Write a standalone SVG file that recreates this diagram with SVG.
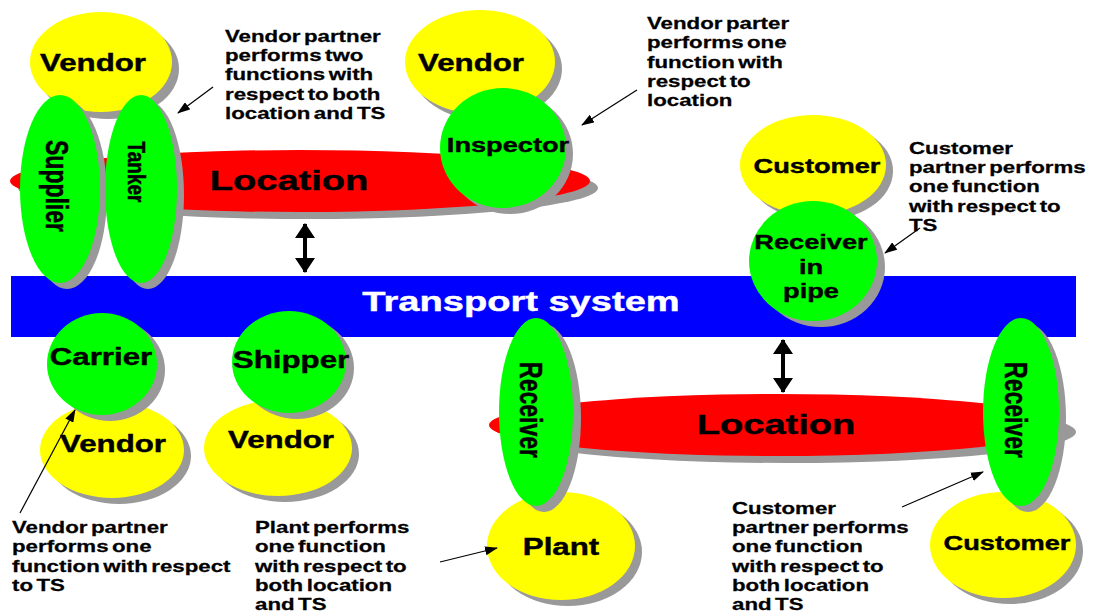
<svg xmlns="http://www.w3.org/2000/svg" width="1094" height="612" viewBox="0 0 1094 612">
  <defs>
    <style>
      text { font-family: "Liberation Sans", Arial, sans-serif; font-weight: bold; fill: #000; }
      .lbl { font-size: 23px; text-anchor: middle; stroke: #000; stroke-width: 0.4px; }
      .big { font-size: 28px; text-anchor: middle; stroke: #000; stroke-width: 0.4px; }
      .note { font-size: 16.5px; word-spacing: -2px; stroke: #000; stroke-width: 0.25px; }
      .ts { fill: #fff; stroke: #fff; }
      .sh { fill: #999; }
      .yel { fill: #ffff00; }
      .grn { fill: #00ff00; }
      .red { fill: #ff0000; }
      .thin { stroke: #000; stroke-width: 1.2; fill: none; marker-end: url(#tip); }
      .link { stroke: #000; stroke-width: 4; fill: none; marker-start: url(#head); marker-end: url(#head); }
    </style>
    <marker id="tip" markerUnits="userSpaceOnUse" markerWidth="13" markerHeight="9" refX="12" refY="4.5" orient="auto">
      <path d="M0,0 L13,4.5 L0,9 z" fill="#000"/>
    </marker>
    <marker id="head" markerUnits="userSpaceOnUse" markerWidth="20" markerHeight="20" refX="14" refY="10" orient="auto-start-reverse">
      <path d="M0,0 L15,10 L0,20 z" fill="#000"/>
    </marker>
  </defs>

  <rect width="1094" height="612" fill="#fff"/>

  <!-- transport system bar -->
  <g id="transport">
    <rect x="11" y="276" width="1065" height="61" fill="#0000ff"/>
    <text class="big ts" transform="translate(521,311) scale(1.36,1)">Transport system</text>
  </g>

  <!-- upper location -->
  <g id="location-top">
    <ellipse class="sh" cx="308" cy="188" rx="290" ry="31"/>
    <ellipse class="red" cx="300" cy="181" rx="290" ry="31"/>
    <text class="big" transform="translate(289,190) scale(1.36,1)">Location</text>
  </g>

  <!-- lower location -->
  <g id="location-bottom">
    <ellipse class="sh" cx="788" cy="432" rx="288" ry="31"/>
    <ellipse class="red" cx="777" cy="425" rx="288" ry="31"/>
    <text class="big" transform="translate(776,434) scale(1.36,1)">Location</text>
  </g>

  <g id="vendor-1">
    <ellipse class="sh" cx="108" cy="69" rx="71" ry="50"/>
    <ellipse class="yel" cx="101" cy="62" rx="71" ry="50"/>
    <text class="lbl" transform="translate(93,71) scale(1.36,1)">Vendor</text>
  </g>

  <g id="supplier">
    <ellipse class="sh" cx="67" cy="195" rx="40" ry="94"/>
    <ellipse class="grn" cx="60" cy="189" rx="40" ry="94"/>
    <text class="lbl" transform="translate(57,186) scale(1.36,1) rotate(90)" y="8">Supplier</text>
  </g>

  <g id="tanker">
    <ellipse class="sh" cx="148" cy="195" rx="36" ry="94"/>
    <ellipse class="grn" cx="141" cy="189" rx="36" ry="94"/>
    <text class="lbl" style="font-size:19px" transform="translate(137,172) scale(1.3,1) rotate(90)" y="7">Tanker</text>
  </g>

  <g id="vendor-2">
    <ellipse class="sh" cx="487" cy="69" rx="75" ry="52"/>
    <ellipse class="yel" cx="480" cy="62" rx="75" ry="52"/>
    <text class="lbl" transform="translate(471,71) scale(1.36,1)">Vendor</text>
  </g>

  <g id="inspector">
    <ellipse class="sh" cx="510" cy="154" rx="63" ry="60"/>
    <ellipse class="grn" cx="503" cy="148" rx="63" ry="60"/>
    <text class="lbl" style="font-size:20px" transform="translate(508,152) scale(1.36,1)">Inspector</text>
  </g>

  <g id="customer-1">
    <ellipse class="sh" cx="820" cy="171" rx="73" ry="50"/>
    <ellipse class="yel" cx="813" cy="165" rx="73" ry="50"/>
    <text class="lbl" style="font-size:20px" transform="translate(817,173) scale(1.36,1)">Customer</text>
  </g>

  <g id="receiver-pipe">
    <ellipse class="sh" cx="821" cy="267" rx="64" ry="60"/>
    <ellipse class="grn" cx="813" cy="261" rx="64" ry="60"/>
    <text class="lbl" style="font-size:20px" transform="translate(811,249) scale(1.36,1)">Receiver</text>
    <text class="lbl" style="font-size:20px" transform="translate(811,274) scale(1.36,1)">in</text>
    <text class="lbl" style="font-size:20px" transform="translate(811,298) scale(1.36,1)">pipe</text>
  </g>

  <g id="vendor-3">
    <ellipse class="sh" cx="119" cy="456" rx="72" ry="48"/>
    <ellipse class="yel" cx="112" cy="450" rx="72" ry="48"/>
    <text class="lbl" transform="translate(113,452) scale(1.36,1)">Vendor</text>
  </g>

  <g id="carrier">
    <ellipse class="sh" cx="110" cy="370" rx="55" ry="51"/>
    <ellipse class="grn" cx="102" cy="364" rx="55" ry="51"/>
    <text class="lbl" transform="translate(101,365) scale(1.36,1)">Carrier</text>
  </g>

  <g id="vendor-4">
    <ellipse class="sh" cx="285" cy="454" rx="74" ry="48"/>
    <ellipse class="yel" cx="278" cy="448" rx="74" ry="48"/>
    <text class="lbl" transform="translate(281,448) scale(1.36,1)">Vendor</text>
  </g>

  <g id="shipper">
    <ellipse class="sh" cx="297" cy="368" rx="57" ry="51"/>
    <ellipse class="grn" cx="289" cy="362" rx="57" ry="51"/>
    <text class="lbl" transform="translate(291,368) scale(1.36,1)">Shipper</text>
  </g>

  <g id="plant">
    <ellipse class="sh" cx="568" cy="552" rx="74" ry="54"/>
    <ellipse class="yel" cx="561" cy="546" rx="74" ry="54"/>
    <text class="lbl" transform="translate(561,555) scale(1.36,1)">Plant</text>
  </g>

  <g id="receiver-1">
    <ellipse class="sh" cx="544" cy="418" rx="37" ry="94"/>
    <ellipse class="grn" cx="536" cy="412" rx="37" ry="94"/>
    <text class="lbl" transform="translate(531,410) scale(1.36,1) rotate(90)" y="8">Receiver</text>
  </g>

  <g id="customer-2">
    <ellipse class="sh" cx="1010" cy="551" rx="73" ry="53"/>
    <ellipse class="yel" cx="1003" cy="545" rx="73" ry="53"/>
    <text class="lbl" style="font-size:20px" transform="translate(1007,550) scale(1.36,1)">Customer</text>
  </g>

  <g id="receiver-2">
    <ellipse class="sh" cx="1028" cy="418" rx="38" ry="94"/>
    <ellipse class="grn" cx="1021" cy="412" rx="38" ry="94"/>
    <text class="lbl" transform="translate(1016,410) scale(1.36,1) rotate(90)" y="8">Receiver</text>
  </g>

  <!-- explanatory notes -->
  <g id="note-1" transform="translate(225,0) scale(1.35,1)">
    <text class="note" y="42">Vendor partner</text>
    <text class="note" y="61">performs two</text>
    <text class="note" y="80.5">functions with</text>
    <text class="note" y="100">respect to both</text>
    <text class="note" y="119">location and TS</text>
  </g>
  <g id="note-2" transform="translate(647,0) scale(1.35,1)">
    <text class="note" y="29">Vendor parter</text>
    <text class="note" y="48.5">performs one</text>
    <text class="note" y="68">function with</text>
    <text class="note" y="87">respect to</text>
    <text class="note" y="106">location</text>
  </g>
  <g id="note-3" transform="translate(909,0) scale(1.35,1)">
    <text class="note" y="154">Customer</text>
    <text class="note" y="173">partner performs</text>
    <text class="note" y="192.5">one function</text>
    <text class="note" y="212">with respect to</text>
    <text class="note" y="231">TS</text>
  </g>
  <g id="note-4" transform="translate(12,0) scale(1.35,1)">
    <text class="note" y="533">Vendor partner</text>
    <text class="note" y="552.5">performs one</text>
    <text class="note" y="572">function with respect</text>
    <text class="note" y="591">to TS</text>
  </g>
  <g id="note-5" transform="translate(255,0) scale(1.35,1)">
    <text class="note" y="533">Plant performs</text>
    <text class="note" y="552.5">one function</text>
    <text class="note" y="572">with respect to</text>
    <text class="note" y="591">both location</text>
    <text class="note" y="610">and TS</text>
  </g>
  <g id="note-6" transform="translate(732,0) scale(1.35,1)">
    <text class="note" y="514">Customer</text>
    <text class="note" y="533">partner performs</text>
    <text class="note" y="552.5">one function</text>
    <text class="note" y="572">with respect to</text>
    <text class="note" y="591">both location</text>
    <text class="note" y="610">and TS</text>
  </g>

  <!-- connectors -->
  <g id="connectors">
    <path class="link" d="M305,224 L305,272"/>
    <path class="link" d="M783,340 L783,392"/>
    <path class="thin" d="M213,87 L178,113"/>
    <path class="thin" d="M637,90 L582,125"/>
    <path class="thin" d="M920,228 L885,253"/>
    <path class="thin" d="M20,513 L75,410"/>
    <path class="thin" d="M440,562 L497,548"/>
    <path class="thin" d="M902,507 L983,472"/>
  </g>
</svg>
